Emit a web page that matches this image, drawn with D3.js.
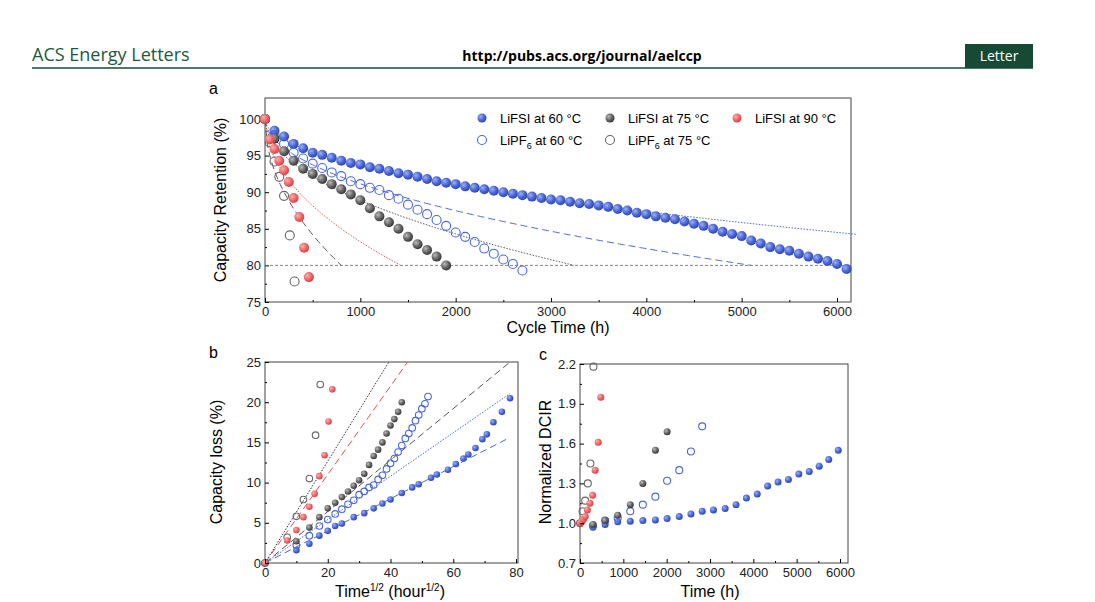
<!DOCTYPE html>
<html><head><meta charset="utf-8">
<script src="https://cdn.jsdelivr.net/npm/d3@7"></script>
<style>body{margin:0;background:#fff}svg{font-family:Arial,"Liberation Sans",sans-serif}</style>
</head><body><svg width="1095" height="602"></svg>
<script>
"use strict";
// panel a: capacity retention (%) sampled every 100 h unless times given
const fsi60 = [100,98.4,97.6,96.6,96.0,95.4,95.1,94.7,94.3,94.0,93.8,93.4,93.2,92.9,92.6,92.4,92.1,91.8,91.5,91.3,91.1,90.8,90.6,90.4,90.2,90.0,89.8,89.6,89.4,89.2,89.0,88.9,88.7,88.5,88.4,88.2,88.0,87.7,87.5,87.2,87.0,86.7,86.5,86.3,86.0,85.7,85.4,85.0,84.6,84.3,84.0,83.4,83.0,82.5,82.2,82.0,81.6,81.2,80.9,80.6,80.2,79.5];
const pf60 = [100,97.8,96.6,95.4,94.6,93.9,93.3,92.7,92.2,91.5,91.1,90.6,90.3,89.6,89.1,88.3,87.6,87.0,86.2,85.4,84.5,83.9,83.2,82.3,81.6,80.8,80.2,79.3];
const fsi75 = [100,97.3,95.6,94.3,93.2,92.5,91.8,91.1,90.4,89.7,88.9,87.8,86.7,85.9,85.0,83.9,82.9,82.1,81.2,80.0];
const pf75T = [0,50,100,150,200,260,310];
const pf75 = [100,96.8,94.2,92.1,89.5,84.1,77.8];
const fsi90T = [0,50,100,150,200,250,300,360,410,460];
const fsi90 = [100,97.2,95.9,94.3,93.0,91.4,89.2,86.6,82.4,78.4];
// times of LiFSI 60 °C points shown in panel b
const fsi60BT = [0,100,200,300,400,500,600,800,1000,1200,1400,1600,1900,2200,2400,2800,3000,3400,3700,4000,4200,4500,4800,5000,5300,5700,6100];
// fitted sqrt-law slopes (loss % per hour^1/2) and end time in panel a
const fitA = [{k:0.200,end:6200,c:"#4a68d8",dash:"1.5,1.5"},{k:0.280,end:5100,c:"#4a68d8",dash:"7,4"},
  {k:0.351,end:3250,c:"#555",dash:"1.5,1.5"},{k:0.530,end:1420,c:"#e05050",dash:"1.5,1.5"},{k:0.707,end:800,c:"#555",dash:"7,4"}];
const fitB = [{k:0.200,c:"#4a68d8",dash:"7,4"},{k:0.270,c:"#4a68d8",dash:"1.5,1.5"},{k:0.320,c:"#555",dash:"7,4"},
  {k:0.550,c:"#e05050",dash:"7,4"},{k:0.633,c:"#333",dash:"1.5,1.5"}];
// panel c: normalized DCIR
const dFsi60 = [[300,0.97],[580,0.99],[870,1.01],[1160,1.015],[1450,1.02],[1740,1.025],[2010,1.035],[2290,1.05],[2560,1.07],[2820,1.09],[3080,1.10],[3350,1.11],[3600,1.14],[3840,1.19],[4090,1.22],[4330,1.28],[4570,1.31],[4810,1.33],[5050,1.37],[5290,1.39],[5520,1.43],[5740,1.48],[5960,1.55]];
const dPf60 = [[300,0.98],[580,1.02],[870,1.04],[1160,1.09],[1450,1.14],[1740,1.20],[2010,1.32],[2290,1.40],[2560,1.54],[2820,1.73]];
const dFsi75 = [[300,0.99],[580,1.02],[870,1.06],[1160,1.14],[1450,1.30],[1740,1.55],[2010,1.69]];
const dPf75 = [[0,1.0],[60,1.09],[120,1.17],[180,1.30],[240,1.45],[310,2.18]];
const dFsi90 = [[0,1.0],[40,1.01],[80,1.03],[120,1.05],[170,1.10],[230,1.15],[290,1.21],[350,1.40],[420,1.61],[480,1.95]];

const BLUE = "#4a68d8", GRAY = "#666", RED = "#f06868";
const svg = d3.select("svg");
const defs = svg.append("defs");
[["gb", "#9fb0f5", BLUE, "#2c45a8"], ["gg", "#bbb", GRAY, "#333"], ["gr", "#ffb0b0", RED, "#d04040"]].forEach(([id, a, b, c]) => {
  const g = defs.append("radialGradient").attr("id", id).attr("cx", "35%").attr("cy", "35%").attr("r", "70%");
  g.append("stop").attr("offset", "0%").attr("stop-color", a);
  g.append("stop").attr("offset", "55%").attr("stop-color", b);
  g.append("stop").attr("offset", "100%").attr("stop-color", c);
});

// header
svg.append("text").attr("x", 32).attr("y", 61).attr("fill", "#1a5a3a").style("font-size", "18px").style("font-family", "Open Sans").text("ACS Energy Letters");
svg.append("text").attr("x", 582).attr("y", 61).attr("text-anchor", "middle").style("font-size", "14px").style("font-weight", "bold").style("font-family", "Open Sans").text("http://pubs.acs.org/journal/aelccp");
svg.append("rect").attr("x", 965).attr("y", 44).attr("width", 68).attr("height", 24).attr("fill", "#164a34");
svg.append("text").attr("x", 999).attr("y", 61).attr("text-anchor", "middle").attr("fill", "#fff").style("font-size", "14px").style("font-family", "Open Sans").text("Letter");
svg.append("line").attr("x1", 32).attr("x2", 1033).attr("y1", 68).attr("y2", 68).attr("stroke", "#164a34").attr("stroke-width", 1.5);

function frame(x, y, w, h, label, lx) {
  svg.append("rect").attr("x", x).attr("y", y).attr("width", w).attr("height", h).attr("fill", "none").attr("stroke", "#444");
  svg.append("text").attr("x", lx).attr("y", y - 4).style("font-size", "16px").text(label);
}
function axes(x, y, sx, sy, ticksX, ticksY, fmtY, minorX, minorY) {
  const gx = svg.append("g").attr("transform", `translate(0,${y})`).call(d3.axisBottom(sx).tickValues(ticksX).tickSize(-4).tickPadding(5).tickFormat(d3.format("d")));
  const gy = svg.append("g").attr("transform", `translate(${x},0)`).call(d3.axisLeft(sy).tickValues(ticksY).tickSize(-4).tickPadding(4).tickFormat(fmtY));
  svg.append("g").attr("transform", `translate(0,${y})`).call(d3.axisBottom(sx).tickValues(minorX).tickSize(-2).tickFormat(""));
  svg.append("g").attr("transform", `translate(${x},0)`).call(d3.axisLeft(sy).tickValues(minorY).tickSize(-2).tickFormat(""));
  svg.selectAll(".domain").remove();
  [gx, gy].forEach(g => g.selectAll("text").style("font-size", "13px").attr("fill", "#222"));
}
function dots(data, sx, sy, r, fill, stroke) {
  svg.append("g").selectAll("circle").data(data).join("circle")
    .attr("cx", d => sx(d[0])).attr("cy", d => sy(d[1])).attr("r", r)
    .attr("fill", fill).attr("stroke", stroke || "none").attr("stroke-width", 1.1);
}

// ---- panel a
const xa = d3.scaleLinear().domain([0, 6000]).range([265, 837]);
const ya = d3.scaleLinear().domain([75, 100]).range([302, 119]);
frame(265, 98, 586, 204, "a", 209);
axes(265, 302, xa, ya, d3.range(0, 6001, 1000), d3.range(75, 101, 5), d3.format("d"), d3.range(500, 6001, 1000), d3.range(77.5, 101, 5));
svg.append("line").attr("x1", xa(0)).attr("x2", 851).attr("y1", ya(80)).attr("y2", ya(80)).attr("stroke", "#666").attr("stroke-dasharray", "3,2").attr("stroke-width", 0.8);
const lineA = d3.line().x(d => xa(d[0])).y(d => ya(d[1]));
fitA.forEach(f => {
  const pts = d3.range(0, f.end + 1, 20).map(t => [t, 100 - f.k * Math.sqrt(t)]);
  svg.append("path").attr("d", lineA(pts)).attr("fill", "none").attr("stroke", f.c).attr("stroke-width", 1).attr("stroke-dasharray", f.dash);
});
const every100 = arr => arr.map((v, i) => [i * 100, v]);
const zipT = (t, v) => t.map((x, i) => [x, v[i]]);
const aFsi60 = every100(fsi60), aPf60 = every100(pf60), aFsi75 = every100(fsi75), aPf75 = zipT(pf75T, pf75), aFsi90 = zipT(fsi90T, fsi90);
dots(aFsi60, xa, ya, 5, "url(#gb)");
dots(aPf60, xa, ya, 4.5, "none", BLUE);
dots(aFsi75, xa, ya, 5, "url(#gg)");
dots(aPf75, xa, ya, 4.5, "none", GRAY);
dots(aFsi90, xa, ya, 5, "url(#gr)");
svg.append("text").attr("x", 558).attr("y", 333).attr("text-anchor", "middle").style("font-size", "16px").text("Cycle Time (h)");
svg.append("text").attr("transform", "translate(226,200) rotate(-90)").attr("text-anchor", "middle").style("font-size", "16px").text("Capacity Retention (%)");
// legend
const leg = [[482, 118, "url(#gb)", null, "LiFSI at 60 °C"], [610, 118, "url(#gg)", null, "LiFSI at 75 °C"], [737, 118, "url(#gr)", null, "LiFSI at 90 °C"],
  [482, 140, "none", BLUE, "LiPF6 at 60 °C"], [610, 140, "none", GRAY, "LiPF6 at 75 °C"]];
leg.forEach(([x, y, f, s, t]) => {
  svg.append("circle").attr("cx", x).attr("cy", y).attr("r", 4.5).attr("fill", f).attr("stroke", s || "none").attr("stroke-width", 1.1);
  const tx = svg.append("text").attr("x", x + 18).attr("y", y + 5).style("font-size", "13px");
  if (t.startsWith("LiPF6")) {
    tx.append("tspan").text("LiPF");
    tx.append("tspan").attr("dy", 4).style("font-size", "9px").text("6");
    tx.append("tspan").attr("dy", -4).text(" at " + t.slice(9));
  } else tx.text(t);
});

// ---- panel b
const xb = d3.scaleLinear().domain([0, 80]).range([265, 516]);
const yb = d3.scaleLinear().domain([0, 25]).range([563, 362]);
frame(265, 362, 253, 201, "b", 209);
svg.append("defs").append("clipPath").attr("id", "cb").append("rect").attr("x", 265).attr("y", 362).attr("width", 253).attr("height", 201);
const lineB = d3.line().x(d => xb(d[0])).y(d => yb(d[1]));
fitB.forEach(f => {
  svg.append("path").attr("clip-path", "url(#cb)").attr("d", lineB([[0, 0], [78, 78 * f.k]])).attr("fill", "none")
    .attr("stroke", f.c).attr("stroke-width", 1).attr("stroke-dasharray", f.dash);
});
const toB = arr => arr.map(d => [Math.sqrt(d[0]), 100 - d[1]]);
dots(toB(aFsi60.filter(d => fsi60BT.includes(d[0]))), xb, yb, 3.3, "url(#gb)");
dots(toB(aPf60), xb, yb, 3.3, "none", BLUE);
dots(toB(aFsi75), xb, yb, 3.3, "url(#gg)");
dots(toB(aPf75), xb, yb, 3.3, "none", GRAY);
dots(toB(aFsi90), xb, yb, 3.3, "url(#gr)");
axes(265, 563, xb, yb, d3.range(0, 81, 20), d3.range(0, 26, 5), d3.format("d"), d3.range(10, 81, 20), d3.range(2.5, 26, 5));
const tb = svg.append("text").attr("x", 390).attr("y", 597).attr("text-anchor", "middle").style("font-size", "16px");
tb.append("tspan").text("Time");
tb.append("tspan").attr("dy", -6).style("font-size", "10px").text("1/2");
tb.append("tspan").attr("dy", 6).text(" (hour");
tb.append("tspan").attr("dy", -6).style("font-size", "10px").text("1/2");
tb.append("tspan").attr("dy", 6).text(")");
svg.append("text").attr("transform", "translate(222,462) rotate(-90)").attr("text-anchor", "middle").style("font-size", "16px").text("Capacity loss (%)");

// ---- panel c
const xc = d3.scaleLinear().domain([0, 6000]).range([580, 840]);
const yc = d3.scaleLinear().domain([0.7, 2.2]).range([563, 364]);
frame(580, 364, 268, 199, "c", 539);
dots(dFsi60, xc, yc, 3.5, "url(#gb)");
dots(dPf60, xc, yc, 3.5, "none", BLUE);
dots(dFsi75, xc, yc, 3.5, "url(#gg)");
dots(dPf75, xc, yc, 3.5, "none", GRAY);
dots(dFsi90, xc, yc, 3.5, "url(#gr)");
axes(580, 563, xc, yc, d3.range(0, 6001, 1000), [0.7, 1.0, 1.3, 1.6, 1.9, 2.2], d3.format(".1f"), d3.range(500, 6001, 1000), [0.85, 1.15, 1.45, 1.75, 2.05]);
svg.append("text").attr("x", 710).attr("y", 597).attr("text-anchor", "middle").style("font-size", "16px").text("Time (h)");
svg.append("text").attr("transform", "translate(551,462) rotate(-90)").attr("text-anchor", "middle").style("font-size", "16px").text("Normalized DCIR");
</script></body></html>
